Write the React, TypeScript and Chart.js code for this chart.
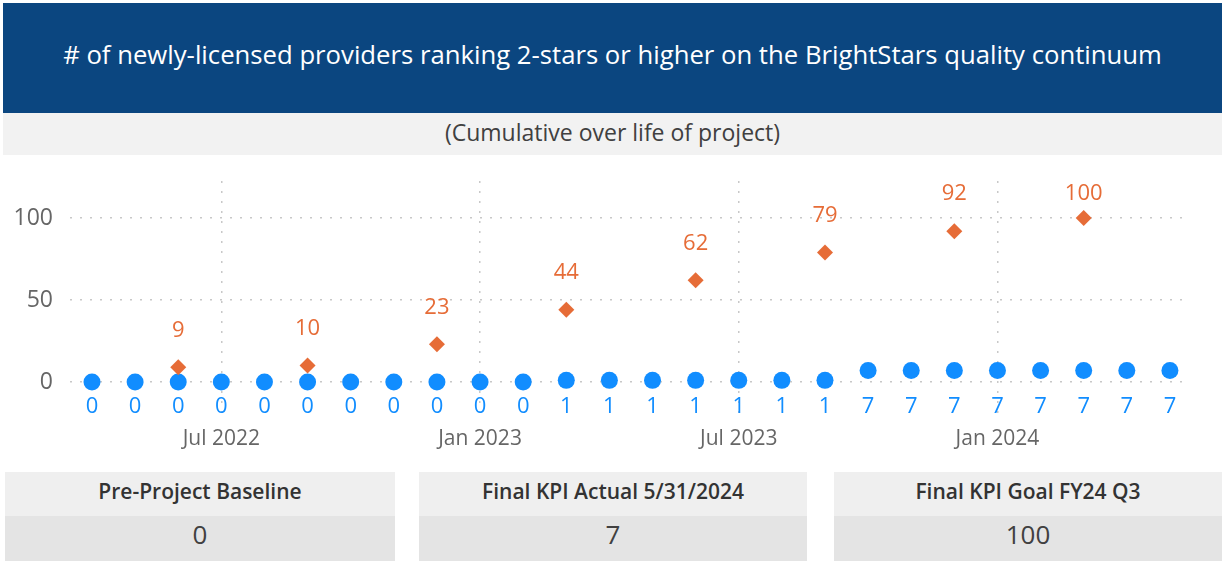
import React, { useEffect, useRef } from 'react';
import { Chart, registerables } from 'chart.js';

Chart.register(...registerables);

const FONT = '"Segoe UI", "Open Sans", "Noto Sans", sans-serif';

const title = '# of newly-licensed providers ranking 2-stars or higher on the BrightStars quality continuum';
const subtitle = '(Cumulative over life of project)';

const months = [
  'Apr 2022', 'May 2022', 'Jun 2022', 'Jul 2022', 'Aug 2022', 'Sep 2022', 'Oct 2022', 'Nov 2022', 'Dec 2022',
  'Jan 2023', 'Feb 2023', 'Mar 2023', 'Apr 2023', 'May 2023', 'Jun 2023', 'Jul 2023', 'Aug 2023', 'Sep 2023',
  'Oct 2023', 'Nov 2023', 'Dec 2023', 'Jan 2024', 'Feb 2024', 'Mar 2024', 'Apr 2024', 'May 2024',
];
const actualValues = [0, 0, 0, 0, 0, 0, 0, 0, 0, 0, 0, 1, 1, 1, 1, 1, 1, 1, 7, 7, 7, 7, 7, 7, 7, 7];
const goalValues: (number | null)[] = [
  null, null, 9, null, null, 10, null, null, 23, null, null, 44, null, null, 62, null, null, 79,
  null, null, 92, null, null, 100, null, null,
];
const xTickLabels = ['Jul 2022', 'Jan 2023', 'Jul 2023', 'Jan 2024'];
const yTickValues = [0, 50, 100];

const cardTitles = ['Pre-Project Baseline', 'Final KPI Actual 5/31/2024', 'Final KPI Goal FY24 Q3'];
const cardValues = ['0', '7', '100'];

const BLUE = '#118DFF';
const ORANGE = '#E66C37';

const labelPlugin = {
  id: 'pointLabels',
  afterDatasetsDraw(chart: any) {
    const ctx = chart.ctx;
    const yScale = chart.scales.y;
    const top = chart.chartArea.top;
    chart.data.datasets.forEach((ds: any, di: number) => {
      const meta = chart.getDatasetMeta(di);
      const cfg = ds.labelCfg;
      if (!cfg) return;
      ctx.save();
      ctx.font = `${cfg.size}px ${FONT}`;
      ctx.fillStyle = cfg.color;
      ctx.textAlign = 'center';
      ctx.textBaseline = 'middle';
      meta.data.forEach((el: any, i: number) => {
        const v = ds.data[i].y;
        let y = cfg.anchor === 'base' ? yScale.getPixelForValue(0) + cfg.offset : el.y + cfg.offset;
        if (y < top + 13) y = top + 13;
        ctx.fillText(String(v), el.x, y);
      });
      ctx.restore();
    });
  },
};

function ChartPanel() {
  const ref = useRef<HTMLCanvasElement | null>(null);
  useEffect(() => {
    if (!ref.current) return;
    const actualData = actualValues.map((v, i) => ({ x: i, y: v }));
    const goalData = goalValues
      .map((v, i) => (v === null ? null : { x: i, y: v }))
      .filter((p) => p !== null) as { x: number; y: number }[];
    const tickIdx = xTickLabels.map((l) => months.indexOf(l));

    const zeroPadding = (axis: any) => {
      axis.paddingTop = 0;
      axis.paddingBottom = 0;
      axis.paddingLeft = 0;
      axis.paddingRight = 0;
    };

    const chart = new Chart(ref.current, {
      type: 'scatter',
      data: {
        datasets: [
          {
            label: 'Goal',
            data: goalData,
            pointStyle: 'rectRot',
            pointRadius: 8,
            backgroundColor: ORANGE,
            borderColor: ORANGE,
            borderWidth: 0,
            showLine: false,
            labelCfg: { size: 22, color: ORANGE, offset: -37, anchor: 'point' },
          } as any,
          {
            label: 'Actual',
            data: actualData,
            pointStyle: 'circle',
            pointRadius: 8.5,
            backgroundColor: BLUE,
            borderColor: BLUE,
            borderWidth: 0,
            showLine: false,
            labelCfg: { size: 22, color: BLUE, offset: 25, anchor: 'base' },
          } as any,
        ],
      },
      options: {
        responsive: false,
        animation: false,
        events: [],
        layout: { padding: { top: 26, right: 40, left: 0, bottom: 0 } },
        plugins: { legend: { display: false }, tooltip: { enabled: false } },
        scales: {
          x: {
            type: 'linear',
            min: -0.51,
            max: 25.28,
            afterBuildTicks: (axis: any) => {
              axis.ticks = tickIdx.map((v) => ({ value: v }));
            },
            afterFit: (axis: any) => {
              axis.height = 42;
              zeroPadding(axis);
            },
            ticks: {
              autoSkip: false,
              maxRotation: 0,
              padding: 8,
              color: '#666666',
              font: { size: 21, family: FONT },
              callback: (value: any) => months[Number(value)] ?? '',
            },
            grid: {
              drawTicks: false,
              color: '#C8C8C8',
              lineWidth: 1.5,
            },
            border: { display: false, dash: [2, 8] },
          },
          y: {
            min: -21.95,
            max: 122.6,
            afterBuildTicks: (axis: any) => {
              axis.ticks = yTickValues.map((v) => ({ value: v }));
            },
            afterFit: (axis: any) => {
              axis.width = 70;
              zeroPadding(axis);
            },
            ticks: {
              padding: 17,
              color: '#666666',
              font: { size: 23, family: FONT },
            },
            grid: {
              drawTicks: false,
              color: '#C8C8C8',
              lineWidth: 1.5,
            },
            border: { display: false, dash: [2, 8] },
          },
        },
      } as any,
      plugins: [labelPlugin],
    });
    return () => chart.destroy();
  }, []);
  return <canvas ref={ref} width={1222} height={305} style={{ display: 'block' }} />;
}

export default function App() {
  const cards = [
    { left: 5, width: 390 },
    { left: 419, width: 388 },
    { left: 834, width: 388 },
  ];
  return (
    <div
      style={{
        position: 'absolute',
        left: 0,
        top: 0,
        width: 1222,
        height: 561,
        background: '#ffffff',
        overflow: 'hidden',
        fontFamily: FONT,
      }}
    >
      <div
        style={{
          position: 'absolute',
          left: 3,
          top: 3,
          width: 1219,
          height: 110,
          background: '#0B4680',
          color: '#ffffff',
          display: 'flex',
          alignItems: 'center',
          justifyContent: 'center',
          fontSize: 25.7,
          fontWeight: 400,
          whiteSpace: 'nowrap',
          paddingBottom: 7,
          boxSizing: 'border-box',
        }}
      >
        {title}
      </div>
      <div
        style={{
          position: 'absolute',
          left: 3,
          top: 113,
          width: 1219,
          height: 42,
          background: '#F2F2F2',
          color: '#404040',
          display: 'flex',
          alignItems: 'center',
          justifyContent: 'center',
          fontSize: 23,
          paddingBottom: 5,
          boxSizing: 'border-box',
          whiteSpace: 'nowrap',
        }}
      >
        {subtitle}
      </div>
      <div style={{ position: 'absolute', left: 0, top: 155, width: 1222, height: 305 }}>
        <ChartPanel />
      </div>
      {cards.map((c, i) => (
        <div key={i} style={{ position: 'absolute', left: c.left, top: 472, width: c.width, height: 89 }}>
          <div
            style={{
              height: 44,
              background: '#EFEFEF',
              color: '#333333',
              display: 'flex',
              alignItems: 'center',
              justifyContent: 'center',
              fontSize: 21,
              fontWeight: 600,
              paddingBottom: 6,
              boxSizing: 'border-box',
              whiteSpace: 'nowrap',
            }}
          >
            {cardTitles[i]}
          </div>
          <div
            style={{
              height: 45,
              background: '#E4E4E4',
              color: '#404040',
              display: 'flex',
              alignItems: 'center',
              justifyContent: 'center',
              fontSize: 26,
              paddingBottom: 9,
              boxSizing: 'border-box',
            }}
          >
            {cardValues[i]}
          </div>
        </div>
      ))}
    </div>
  );
}
